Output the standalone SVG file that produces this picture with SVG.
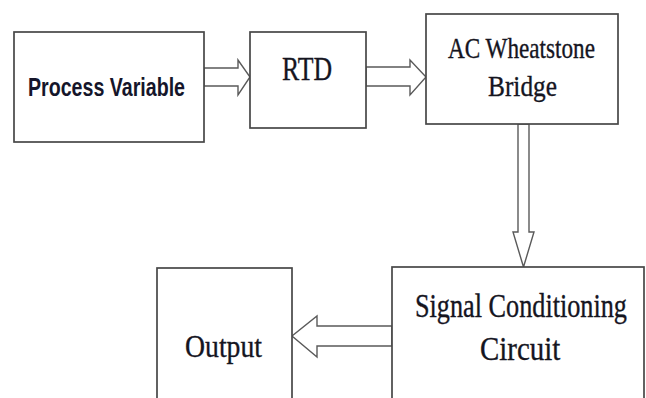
<svg xmlns="http://www.w3.org/2000/svg" width="646" height="398" viewBox="0 0 646 398">
<style>
.box{fill:#fff;stroke:#474747;stroke-width:1.7}
.arr{fill:#fff;stroke:#5a5a5a;stroke-width:1.4;stroke-linejoin:miter}
.serif{font-family:"Liberation Serif","Times New Roman",serif;fill:#15151f;stroke:#15151f;stroke-width:0.35}
.sans{font-family:"Liberation Sans",Arial,sans-serif;font-weight:bold;fill:#15152a}
</style>
<rect width="646" height="398" fill="#fff"/>
<g id="connectors">
<polygon class="arr" points="204,68 238,68 238,60 250,77 238,95 238,86 204,86"/>
<polygon class="arr" points="366,67 410,67 410,60 426,77 410,95 410,86 366,86"/>
<polygon class="arr" points="518,124 518,232 513,232 523.5,267 534,232 529,232 529,124"/>
<polygon class="arr" points="392,326 317,326 317,316 292,336 317,357 317,346 392,346"/>
</g>
<g id="process-variable">
<rect class="box" x="14" y="32" width="190" height="110"/>
<text class="sans" x="28" y="96" font-size="25" textLength="157" lengthAdjust="spacingAndGlyphs">Process Variable</text>
</g>
<g id="rtd">
<rect class="box" x="250" y="32" width="116" height="96"/>
<text class="serif" x="282" y="80" font-size="33" textLength="50" lengthAdjust="spacingAndGlyphs">RTD</text>
</g>
<g id="ac-wheatstone-bridge">
<rect class="box" x="426" y="14" width="192" height="110"/>
<text class="serif" x="448" y="58" font-size="30" textLength="147" lengthAdjust="spacingAndGlyphs">AC Wheatstone</text>
<text class="serif" x="488" y="96" font-size="30" textLength="69" lengthAdjust="spacingAndGlyphs">Bridge</text>
</g>
<g id="signal-conditioning-circuit">
<rect class="box" x="392" y="267" width="252" height="150"/>
<text class="serif" transform="translate(415,317) scale(0.794,1)" x="0" y="0" font-size="33" textLength="267" lengthAdjust="spacingAndGlyphs">Signal Conditioning</text>
<text class="serif" transform="translate(480,360) scale(0.794,1)" x="0" y="0" font-size="33" textLength="101" lengthAdjust="spacingAndGlyphs">Circuit</text>
</g>
<g id="output">
<rect class="box" x="157" y="268" width="135" height="150"/>
<text class="serif" x="185" y="357" font-size="32" textLength="77" lengthAdjust="spacingAndGlyphs">Output</text>
</g>
</svg>
